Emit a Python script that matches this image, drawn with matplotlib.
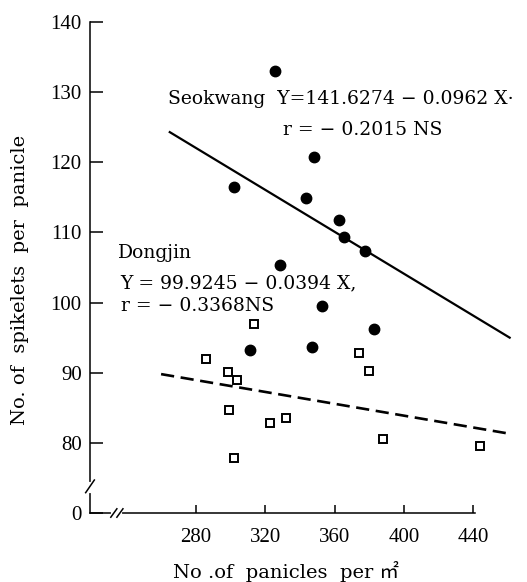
import matplotlib
matplotlib.use("Agg")
import matplotlib.pyplot as plt

plt.rcParams['font.family'] = ['Liberation Serif', 'Noto Sans CJK JP']

# Seokwang (filled circles)
seok_x = [325.6, 302.3, 348.1, 343.5, 362.5, 365.2, 377.8, 328.5, 352.5, 382.7, 311.3, 347.1]
seok_y = [133.0, 116.5, 120.8, 114.9, 111.8, 109.4, 107.3, 105.3, 99.5, 96.3, 93.2, 93.7]
# Dongjin (open squares)
dong_x = [313.5, 286.0, 298.3, 303.8, 299.0, 322.7, 332.1, 302.3, 374.0, 379.8, 387.7, 443.9]
dong_y = [96.9, 91.9, 90.1, 89.0, 84.7, 82.9, 83.6, 77.9, 92.8, 90.3, 80.6, 79.6]
# regression lines as drawn
seok_line_x = [265, 461]
seok_line_y = [124.3, 95.0]
dong_line_x = [260, 461]
dong_line_y = [89.8, 81.3]

xticks = [280, 320, 360, 400, 440]
yticks = [70, 80, 90, 100, 110, 120, 130, 140]
ytick_labels = ['0', '80', '90', '100', '110', '120', '130', '140']

fig = plt.figure(figsize=(5.27, 5.82), dpi=100)
ax = fig.add_axes([90/527, 1-513/582, 420/527, 491/582])
ax.set_xlim(219, 461.2)
ax.set_ylim(70, 140)

ax.plot(seok_line_x, seok_line_y, color='black', lw=1.6, clip_on=False)
ax.plot(dong_line_x, dong_line_y, color='black', lw=1.9, ls=(0, (5, 2.5)), clip_on=False)
ax.plot(seok_x, seok_y, 'o', color='black', ms=7.5, clip_on=False)
ax.plot(dong_x, dong_y, 's', mfc='white', mec='black', mew=1.4, ms=5.8, clip_on=False)

for s in ['top', 'right']:
    ax.spines[s].set_visible(False)
ax.spines['bottom'].set_bounds(219, 441)
ax.spines['left'].set_linewidth(1.1)
ax.spines['bottom'].set_linewidth(1.1)

ax.set_xticks(xticks)
ax.set_yticks(yticks)
ax.set_yticklabels(ytick_labels)
ax.tick_params(axis='y', direction='in', length=9, width=1.1, pad=6, labelsize=15)
ax.tick_params(axis='x', direction='in', length=6, width=1.1, pad=11, labelsize=15)

# axis breaks
ax.plot([219, 219], [73.2, 74.2], color='white', lw=3, clip_on=False, zorder=5)
ax.plot([216.5, 221.5], [72.9, 74.7], color='black', lw=1.1, clip_on=False, zorder=6)
ax.plot([232.5, 236.5], [70, 70], color='white', lw=3, clip_on=False, zorder=5)
ax.plot([231, 234.5], [69.4, 70.6], color='black', lw=1.1, clip_on=False, zorder=6)
ax.plot([234.5, 238], [69.4, 70.6], color='black', lw=1.1, clip_on=False, zorder=6)

tf = ['DejaVu Serif', 'Noto Sans CJK JP']
fs = 13.5
ax.text(263.8, 129.0, 'Seokwang  Y=141.6274 − 0.0962 X·', fontsize=fs, family=tf, va='center', ha='left')
ax.text(330.2, 124.6, 'r = − 0.2015 NS', fontsize=fs, family=tf, va='center', ha='left')
ax.text(235.0, 107.0, 'Dongjin', fontsize=fs, family=tf, va='center', ha='left')
ax.text(236.7, 102.8, 'Y = 99.9245 − 0.0394 X,', fontsize=fs, family=tf, va='center', ha='left')
ax.text(236.7, 99.5, 'r = − 0.3368NS', fontsize=fs, family=tf, va='center', ha='left')

fig.text(286/527, 1-572/582, 'No .of  panicles  per ㎡', fontsize=14, family=tf, ha='center', va='center')
fig.text(20/527, 1-280/582, 'No. of  spikelets  per  panicle', fontsize=14, family=tf,
         ha='center', va='center', rotation=90)

fig.savefig('out.png', dpi=100)
